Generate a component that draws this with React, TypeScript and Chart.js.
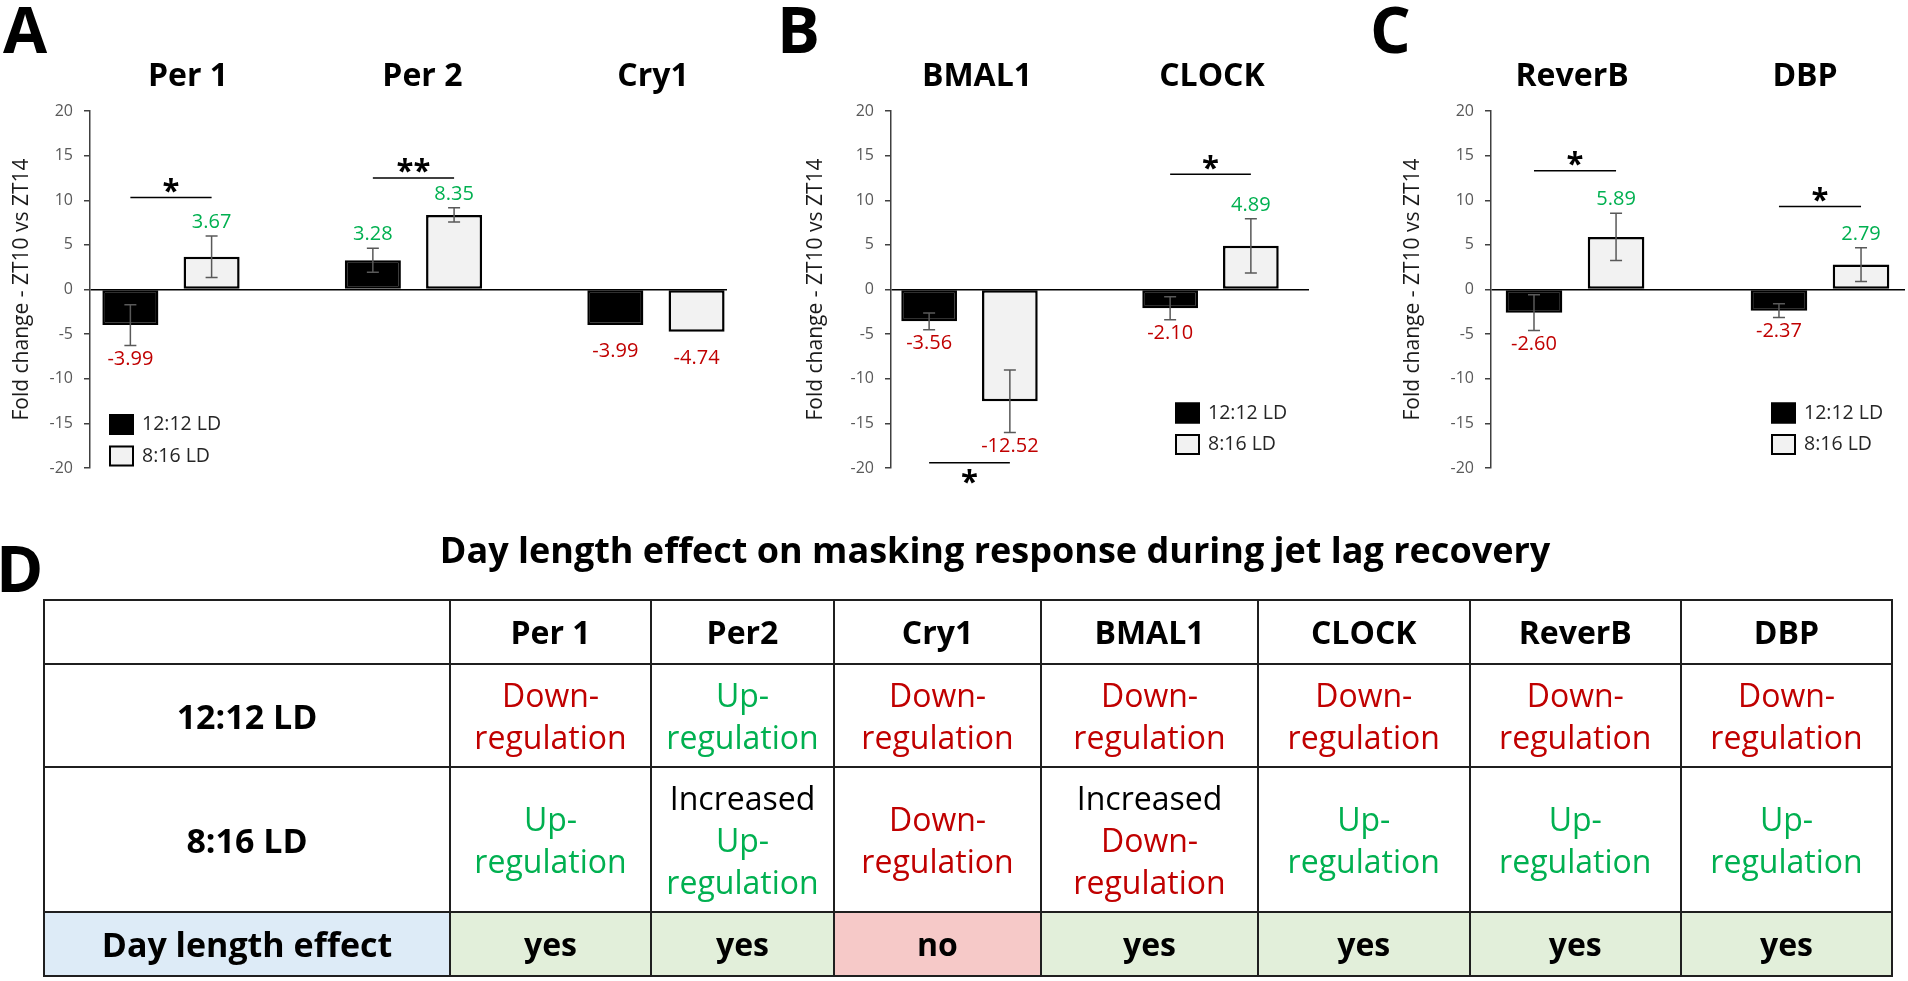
import React, { useEffect, useRef } from "react";
import { Chart, registerables } from "chart.js";

Chart.register(...registerables);

const FONT = "'Open Sans', Lato, sans-serif";
const RED = "#C00000";
const GREEN = "#00B050";

const seriesNames = ["12:12 LD", "8:16 LD"];
const seriesFill = ["#000000", "#F2F2F2"];
const yAxisTitle = "Fold change - ZT10 vs ZT14";
const yMin = -20;
const yMax = 20;
const yStep = 5;

// Panel A
const genesA = ["Per 1", "Per 2", "Cry1"];
const ld1212A = [-3.99, 3.28, -3.99];
const ld816A = [3.67, 8.35, -4.74];
const err1212A = [2.28, 1.35, null];
const err816A = [2.33, 0.8, null];
const sigLevelA = [10.3, 12.5, null];
const sigMarkA = ["*", "**", ""];

// Panel B
const genesB = ["BMAL1", "CLOCK"];
const ld1212B = [-3.56, -2.1];
const ld816B = [-12.52, 4.89];
const err1212B = [0.94, 1.28];
const err816B = [3.5, 3.05];
const sigLevelB = [-19.4, 12.9];
const sigMarkB = ["*", "*"];

// Panel C
const genesC = ["ReverB", "DBP"];
const ld1212C = [-2.6, -2.37];
const ld816C = [5.89, 2.79];
const err1212C = [2.0, 0.78];
const err816C = [2.65, 1.9];
const sigLevelC = [13.3, 9.3];
const sigMarkC = ["*", "*"];

// Panel D (table)
const tableTitle = "Day length effect on masking response during jet lag recovery";
const tableGenes = ["Per 1", "Per2", "Cry1", "BMAL1", "CLOCK", "ReverB", "DBP"];
const rowLabels = ["12:12 LD", "8:16 LD", "Day length effect"];
const state1212 = ["down", "up", "down", "down", "down", "down", "down"];
const state816 = ["up", "incUp", "down", "incDown", "up", "up", "up"];
const dayLengthEffect = ["yes", "yes", "no", "yes", "yes", "yes", "yes"];

const extrasPlugin = {
  id: "panelExtras",
  afterDatasetsDraw(chart: any, _args: any, o: any) {
    const { ctx } = chart;
    const y = chart.scales.y;
    const metas = [chart.getDatasetMeta(0), chart.getDatasetMeta(1)];
    const vals = [o.a, o.b];
    const errs = [o.ea, o.eb];
    ctx.save();
    // error bars
    ctx.strokeStyle = "#595959";
    ctx.lineWidth = 1.5;
    metas.forEach((meta: any, d: number) => {
      meta.data.forEach((bar: any, i: number) => {
        const e = errs[d][i];
        if (e == null) return;
        const v = vals[d][i];
        const y1 = y.getPixelForValue(v + e);
        const y2 = y.getPixelForValue(v - e);
        ctx.beginPath();
        ctx.moveTo(bar.x, y1);
        ctx.lineTo(bar.x, y2);
        ctx.moveTo(bar.x - 6, y1);
        ctx.lineTo(bar.x + 6, y1);
        ctx.moveTo(bar.x - 6, y2);
        ctx.lineTo(bar.x + 6, y2);
        ctx.stroke();
      });
    });
    // value labels
    ctx.font = `20px ${FONT}`;
    ctx.textAlign = "center";
    ctx.textBaseline = "middle";
    metas.forEach((meta: any, d: number) => {
      meta.data.forEach((bar: any, i: number) => {
        const v = vals[d][i];
        const e = errs[d][i];
        const gap = e == null ? 26 : 13.5;
        const end = v >= 0 ? v + (e ?? 0) : v - (e ?? 0);
        const py = y.getPixelForValue(end) + (v >= 0 ? -gap : gap);
        ctx.fillStyle = v >= 0 ? GREEN : RED;
        ctx.fillText(v.toFixed(2), bar.x, py);
      });
    });
    // significance brackets
    ctx.strokeStyle = "#000";
    ctx.lineWidth = 1.5;
    o.sigY.forEach((sv: any, i: number) => {
      if (sv == null) return;
      const x1 = metas[0].data[i].x;
      const x2 = metas[1].data[i].x;
      const py = y.getPixelForValue(sv);
      ctx.beginPath();
      ctx.moveTo(x1, py);
      ctx.lineTo(x2, py);
      ctx.stroke();
      ctx.fillStyle = "#000";
      ctx.font = `bold 31px ${FONT}`;
      ctx.textAlign = "center";
      ctx.textBaseline = "alphabetic";
      const center = sv >= 0 ? py - 9 : py + 17;
      ctx.fillText(o.sigT[i], (x1 + x2) / 2, center + 12.5);
    });
    ctx.restore();
  },
  afterDraw(chart: any, _args: any, o: any) {
    const { ctx, chartArea: ca } = chart;
    ctx.save();
    const lx = o.legendSide === "left" ? ca.left + 19 : ca.right - 134;
    const yLast = ca.bottom - (o.legendSide === "left" ? 12 : 23.5);
    const ys = [yLast - 31.5, yLast];
    chart.data.datasets.forEach((ds: any, d: number) => {
      ctx.fillStyle = ds.backgroundColor;
      ctx.fillRect(lx, ys[d] - 10.5, 25, 21);
      ctx.strokeStyle = "#000";
      ctx.lineWidth = 2;
      ctx.strokeRect(lx + 1, ys[d] - 9.5, 23, 19);
      ctx.fillStyle = "#262626";
      ctx.font = `19.5px ${FONT}`;
      ctx.textAlign = "left";
      ctx.textBaseline = "middle";
      ctx.fillText(ds.label, lx + 33, ys[d]);
    });
    ctx.restore();
  },
};

type PanelProps = {
  genes: string[];
  titleShift: number[];
  a: number[];
  b: number[];
  ea: (number | null)[];
  eb: (number | null)[];
  sigY: (number | null)[];
  sigT: string[];
  left: number;
  width: number;
  axisPx: number;
  xMin: number;
  xMax: number;
  padRight: number;
  titleCenter: number;
  legendSide: string;
};

function BarPanel(p: PanelProps) {
  const ref = useRef<HTMLCanvasElement | null>(null);
  const height = 540;
  useEffect(() => {
    if (!ref.current) return;
    const titleSize = 21;
    const chart = new Chart(ref.current, {
      type: "bar",
      data: {
        datasets: [
          {
            label: seriesNames[0],
            data: p.genes.map((_, i) => ({ x: i, y: p.a[i] })),
            backgroundColor: seriesFill[0],
            borderColor: "#000",
            borderWidth: 2.5,
            borderSkipped: false,
          },
          {
            label: seriesNames[1],
            data: p.genes.map((_, i) => ({ x: i, y: p.b[i] })),
            backgroundColor: seriesFill[1],
            borderColor: "#000",
            borderWidth: 2.5,
            borderSkipped: false,
          },
        ],
      } as any,
      options: {
        responsive: false,
        animation: false,
        devicePixelRatio: 1,
        categoryPercentage: 0.67,
        barPercentage: 0.69,
        layout: { padding: { left: 0, top: 0, right: p.padRight, bottom: height - 468 } },
        plugins: {
          legend: { display: false },
          tooltip: { enabled: false },
          panelExtras: {
            a: p.a,
            b: p.b,
            ea: p.ea,
            eb: p.eb,
            sigY: p.sigY,
            sigT: p.sigT,
            legendSide: p.legendSide,
          },
        } as any,
        scales: {
          x: {
            type: "linear",
            display: false,
            min: p.xMin,
            max: p.xMax,
            offset: false,
            bounds: "data",
            grid: { display: false, offset: false },
            afterBuildTicks: (s: any) => {
              s.ticks = p.genes.map((_, i) => ({ value: i }));
            },
          },
          xt: {
            type: "linear",
            axis: "x",
            position: "top",
            min: p.xMin,
            max: p.xMax,
            offset: false,
            bounds: "data",
            grid: { display: false, drawTicks: false, offset: false },
            border: { display: false },
            afterBuildTicks: (s: any) => {
              s.ticks = p.genes.map((_, i) => ({ value: i + p.titleShift[i] }));
            },
            afterFit: (s: any) => {
              s.height = 111;
            },
            ticks: {
              callback: (_v: any, idx: number) => p.genes[idx] ?? "",
              color: "#000",
              font: { family: FONT, size: 32, weight: "bold" },
              padding: 14.5,
              maxRotation: 0,
              autoSkip: false,
            },
          },
          y: {
            min: yMin,
            max: yMax,
            ticks: {
              stepSize: yStep,
              color: "#595959",
              font: { family: FONT, size: 16 },
              padding: 11,
            },
            grid: {
              color: (c: any) => (c.tick && c.tick.value === 0 ? "#000" : "rgba(0,0,0,0)"),
              lineWidth: 1.5,
              tickColor: "#404040",
              tickLength: 6,
              tickWidth: 1.5,
            },
            border: { display: true, color: "#404040", width: 1.5 },
            title: {
              display: true,
              text: yAxisTitle,
              color: "#1a1a1a",
              font: { family: FONT, size: titleSize },
              padding: { top: p.titleCenter - (titleSize * 1.2) / 2, bottom: 0 },
            },
            afterFit: (s: any) => {
              s.width = p.axisPx;
            },
          },
        } as any,
      },
      plugins: [extrasPlugin as any],
    });
    return () => chart.destroy();
  }, []);
  return (
    <canvas
      ref={ref}
      width={p.width}
      height={height}
      style={{ position: "absolute", left: p.left, top: 0, width: p.width, height }}
    />
  );
}

function Letter({ ch, x, y, size }: { ch: string; x: number; y: number; size: number }) {
  return (
    <div
      style={{
        position: "absolute",
        left: x,
        top: y,
        fontSize: size,
        lineHeight: `${size}px`,
        fontWeight: 700,
        color: "#000",
      }}
    >
      {ch}
    </div>
  );
}

const border = "2px solid #1f1f1f";
const baseCell: React.CSSProperties = {
  border,
  padding: 0,
  textAlign: "center",
  verticalAlign: "middle",
  fontSize: 32,
  lineHeight: "42px",
};

function StateCell({ state }: { state: string }) {
  const inc = state.startsWith("inc");
  const up = state === "up" || state === "incUp";
  const color = up ? GREEN : RED;
  return (
    <td style={baseCell}>
      {inc && <div style={{ color: "#000" }}>Increased</div>}
      <div style={{ color }}>{up ? "Up-" : "Down-"}</div>
      <div style={{ color }}>regulation</div>
    </td>
  );
}

const colWidths = [406, 201, 183, 207, 217, 211.5, 211.5, 211];

export default function App() {
  return (
    <div
      style={{
        position: "absolute",
        left: 0,
        top: 0,
        width: 1908,
        height: 981,
        overflow: "hidden",
        background: "#fff",
        fontFamily: FONT,
      }}
    >
      <BarPanel
        genes={genesA}
        titleShift={[0.07, 0.037, -0.012]}
        a={ld1212A}
        b={ld816A}
        ea={err1212A}
        eb={err816A}
        sigY={sigLevelA}
        sigT={sigMarkA}
        left={0}
        width={735}
        axisPx={90}
        xMin={-0.334}
        xMax={2.293}
        padRight={8}
        titleCenter={22}
        legendSide="left"
      />
      <BarPanel
        genes={genesB}
        titleShift={[0.031, 0.006]}
        a={ld1212B}
        b={ld816B}
        ea={err1212B}
        eb={err816B}
        sigY={sigLevelB}
        sigT={sigMarkB}
        left={780}
        width={537}
        axisPx={111}
        xMin={-0.3257}
        xMax={1.4087}
        padRight={8}
        titleCenter={36}
        legendSide="right"
      />
      <BarPanel
        genes={genesC}
        titleShift={[-0.012, -0.061]}
        a={ld1212C}
        b={ld816C}
        ea={err1212C}
        eb={err816C}
        sigY={sigLevelC}
        sigT={sigMarkC}
        left={1380}
        width={528}
        axisPx={111}
        xMin={-0.343}
        xMax={1.347}
        padRight={3}
        titleCenter={33}
        legendSide="right"
      />
      <Letter ch="A" x={3} y={-3} size={64} />
      <Letter ch="B" x={777} y={-3} size={64} />
      <Letter ch="C" x={1370} y={-3} size={64} />
      <Letter ch="D" x={-4} y={536} size={64} />
      <div
        style={{
          position: "absolute",
          left: 995,
          top: 532,
          transform: "translateX(-50%)",
          whiteSpace: "nowrap",
          fontSize: 36,
          lineHeight: "36px",
          fontWeight: 700,
          color: "#000",
        }}
      >
        {tableTitle}
      </div>
      <table
        style={{
          position: "absolute",
          left: 43,
          top: 599,
          width: 1848,
          borderCollapse: "collapse",
          tableLayout: "fixed",
          fontFamily: FONT,
        }}
      >
        <colgroup>
          {colWidths.map((w, i) => (
            <col key={i} style={{ width: w }} />
          ))}
        </colgroup>
        <tbody>
          <tr style={{ height: 64 }}>
            <td style={baseCell}></td>
            {tableGenes.map((g) => (
              <td key={g} style={{ ...baseCell, fontWeight: 700, color: "#000" }}>
                {g}
              </td>
            ))}
          </tr>
          <tr style={{ height: 103 }}>
            <td style={{ ...baseCell, fontWeight: 700, fontSize: 34 }}>{rowLabels[0]}</td>
            {state1212.map((s, i) => (
              <StateCell key={i} state={s} />
            ))}
          </tr>
          <tr style={{ height: 145 }}>
            <td style={{ ...baseCell, fontWeight: 700, fontSize: 34 }}>{rowLabels[1]}</td>
            {state816.map((s, i) => (
              <StateCell key={i} state={s} />
            ))}
          </tr>
          <tr style={{ height: 64 }}>
            <td style={{ ...baseCell, fontWeight: 700, fontSize: 34, background: "#DDEBF7" }}>
              {rowLabels[2]}
            </td>
            {dayLengthEffect.map((e, i) => (
              <td
                key={i}
                style={{
                  ...baseCell,
                  fontWeight: 700,
                  background: e === "yes" ? "#E2EFDA" : "#F6C9C8",
                }}
              >
                {e}
              </td>
            ))}
          </tr>
        </tbody>
      </table>
    </div>
  );
}
